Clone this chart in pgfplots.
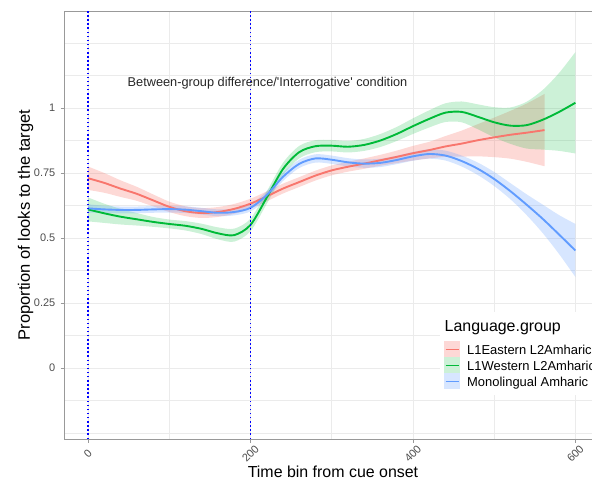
\documentclass[border=0pt]{standalone}
\usepackage{fontspec}
\setmainfont{Liberation Sans}
\usepackage{pgfplots}
\pgfplotsset{compat=1.18}
\usepackage{pgfplotstable}
\usepgfplotslibrary{fillbetween}

\definecolor{cRed}{HTML}{F8766D}
\definecolor{cGreen}{HTML}{00BA38}
\definecolor{cBlue}{HTML}{619CFF}
\definecolor{gridc}{HTML}{EBEBEB}
\definecolor{bordc}{HTML}{999999}
\definecolor{tickc}{HTML}{4D4D4D}

\pgfplotstableread{
x y lo hi
0 0.730 0.685 0.775
20 0.712 0.674 0.750
40 0.690 0.658 0.722
60 0.670 0.643 0.697
80 0.645 0.622 0.668
100 0.620 0.600 0.640
120 0.603 0.584 0.622
140 0.596 0.577 0.615
160 0.600 0.581 0.619
180 0.612 0.593 0.631
200 0.632 0.613 0.651
220 0.660 0.641 0.679
240 0.690 0.671 0.709
260 0.715 0.696 0.734
280 0.740 0.721 0.759
300 0.760 0.741 0.779
320 0.774 0.755 0.793
340 0.786 0.766 0.806
360 0.799 0.778 0.820
380 0.812 0.788 0.836
400 0.826 0.798 0.854
420 0.838 0.806 0.870
440 0.852 0.812 0.892
460 0.863 0.813 0.913
480 0.876 0.814 0.938
500 0.887 0.811 0.963
520 0.897 0.805 0.989
540 0.905 0.793 1.017
562 0.915 0.776 1.054
}\redT

\pgfplotstableread{
x y lo hi
0 0.610 0.564 0.656
20 0.595 0.558 0.632
40 0.582 0.552 0.612
60 0.572 0.548 0.596
80 0.562 0.543 0.581
100 0.554 0.537 0.571
120 0.547 0.529 0.565
140 0.535 0.515 0.555
160 0.518 0.495 0.541
180 0.511 0.486 0.536
200 0.550 0.526 0.574
220 0.655 0.631 0.679
240 0.765 0.741 0.789
260 0.830 0.806 0.854
280 0.853 0.830 0.876
300 0.855 0.833 0.877
320 0.851 0.829 0.873
340 0.858 0.835 0.881
360 0.875 0.850 0.900
380 0.900 0.873 0.927
400 0.930 0.900 0.960
420 0.958 0.925 0.991
440 0.982 0.946 1.018
460 0.985 0.945 1.025
480 0.966 0.918 1.014
500 0.945 0.887 1.003
520 0.932 0.862 1.002
540 0.934 0.844 1.024
560 0.955 0.840 1.070
580 0.985 0.835 1.135
600 1.020 0.825 1.215
}\greenT

\pgfplotstableread{
x y lo hi
0 0.614 0.598 0.630
20 0.610 0.596 0.624
40 0.608 0.595 0.621
60 0.608 0.595 0.621
80 0.610 0.597 0.623
100 0.611 0.598 0.624
120 0.609 0.596 0.622
140 0.603 0.590 0.616
160 0.597 0.584 0.610
180 0.600 0.587 0.613
200 0.616 0.602 0.630
220 0.665 0.650 0.680
240 0.735 0.719 0.751
260 0.785 0.769 0.801
280 0.806 0.790 0.822
300 0.801 0.785 0.817
320 0.791 0.775 0.807
340 0.786 0.770 0.802
360 0.789 0.773 0.805
380 0.800 0.784 0.816
400 0.814 0.797 0.831
420 0.823 0.805 0.841
440 0.817 0.798 0.836
460 0.796 0.775 0.817
480 0.766 0.742 0.790
500 0.727 0.700 0.754
520 0.680 0.649 0.711
540 0.628 0.588 0.668
560 0.573 0.518 0.628
580 0.513 0.438 0.588
600 0.452 0.350 0.554
}\blueT

\begin{document}
\begin{tikzpicture}
\begin{axis}[
  scale only axis,
  width=552bp, height=428bp,
  at={(0,0)}, anchor=south west,
  xmin=-29.5, xmax=650, ymin=-0.273, ymax=1.373,
  axis line style={draw=bordc, line width=0.7pt},
  xtick={0,200,400,600},
  ytick={0,0.25,0.5,0.75,1},
  minor xtick={100,300,500},
  minor ytick={-0.125,0.125,0.375,0.625,0.875,1.125},
  extra y ticks={-0.25,1.25},
  extra y tick labels={},
  extra y tick style={major tick length=0pt, grid=major},
  grid=both,
  major grid style={line width=0.8pt, draw=gridc},
  minor grid style={line width=0.4pt, draw=gridc},
  tick style={draw=bordc, line width=0.7pt},
  major tick length=3.5bp, minor tick length=0pt,
  tick align=outside,
  xtick pos=bottom, ytick pos=left,
  /pgf/number format/assume math mode=true,
  tick label style={font=\fontsize{11}{11}\selectfont, text=tickc},
  yticklabel style={anchor=east, inner sep=0pt, xshift=-5bp},
  xticklabel style={yshift=-11bp, rotate=45, anchor=center, inner sep=0pt},
  xlabel={Time bin from cue onset},
  ylabel={Proportion of looks to the target},
  label style={font=\fontsize{16}{16}\selectfont},
  xlabel style={at={(axis description cs:0.4873,-0.0911)}, anchor=base, inner sep=0pt},
  ylabel style={at={(axis description cs:-0.0616,0.5)}, anchor=base, inner sep=0pt, font=\fontsize{16.6}{17}\selectfont},
]
% L1Eastern L2Amharic
\addplot[draw=none, forget plot, smooth, name path=rU] table[x=x,y=hi]{\redT};
\addplot[draw=none, forget plot, smooth, name path=rL] table[x=x,y=lo]{\redT};
\addplot[fill=cRed, fill opacity=0.28, draw=none, forget plot] fill between[of=rU and rL];
\addplot[cRed, line width=1.9pt, smooth] table[x=x,y=y]{\redT};
% L1Western L2Amharic
\addplot[draw=none, forget plot, smooth, name path=gU] table[x=x,y=hi]{\greenT};
\addplot[draw=none, forget plot, smooth, name path=gL] table[x=x,y=lo]{\greenT};
\addplot[fill=cGreen, fill opacity=0.2, draw=none, forget plot] fill between[of=gU and gL];
\addplot[cGreen, line width=1.9pt, smooth] table[x=x,y=y]{\greenT};
% Monolingual Amharic
\addplot[draw=none, forget plot, smooth, name path=bU] table[x=x,y=hi]{\blueT};
\addplot[draw=none, forget plot, smooth, name path=bL] table[x=x,y=lo]{\blueT};
\addplot[fill=cBlue, fill opacity=0.25, draw=none, forget plot] fill between[of=bU and bL];
\addplot[cBlue, line width=1.9pt, smooth] table[x=x,y=y]{\blueT};
% reference lines
\addplot[blue, line width=1.8bp, dash pattern=on 1.5bp off 2.6bp, forget plot] coordinates {(0,-0.273) (0,1.373)};
\addplot[blue, line width=1.8bp, dash pattern=on 1.5bp off 2.6bp, forget plot] coordinates {(200,-0.273) (200,1.373)};
\node[font=\fontsize{12.8}{13}\selectfont, text=black!85] at (axis cs:221,1.096)
  {Between-group difference/\textquotesingle Interrogative\textquotesingle{} condition};
\end{axis}
% legend
\fill[white] (376bp,44bp) rectangle (600bp,127bp);
\node[anchor=base west, inner sep=0pt, font=\fontsize{16}{16}\selectfont] at (380.5bp,107bp) {Language.group};
\fill[cRed, fill opacity=0.28] (380bp,81.5bp) rectangle (396bp,97.5bp);
\draw[cRed, line width=1.9pt] (381.5bp,89.5bp) -- (394.5bp,89.5bp);
\fill[cGreen, fill opacity=0.2] (380bp,65.5bp) rectangle (396bp,81.5bp);
\draw[cGreen, line width=1.9pt] (381.5bp,73.5bp) -- (394.5bp,73.5bp);
\fill[cBlue, fill opacity=0.25] (380bp,49.5bp) rectangle (396bp,65.5bp);
\draw[cBlue, line width=1.9pt] (381.5bp,57.5bp) -- (394.5bp,57.5bp);
\node[anchor=base west, inner sep=0pt, font=\fontsize{13}{14}\selectfont] at (403bp,84bp) {L1Eastern L2Amharic};
\node[anchor=base west, inner sep=0pt, font=\fontsize{13}{14}\selectfont] at (403bp,68bp) {L1Western L2Amharic};
\node[anchor=base west, inner sep=0pt, font=\fontsize{13}{14}\selectfont] at (403bp,52bp) {Monolingual Amharic};
\pgfresetboundingbox
\useasboundingbox (-64bp,-42bp) rectangle (528bp,439bp);
\end{tikzpicture}
\end{document}
